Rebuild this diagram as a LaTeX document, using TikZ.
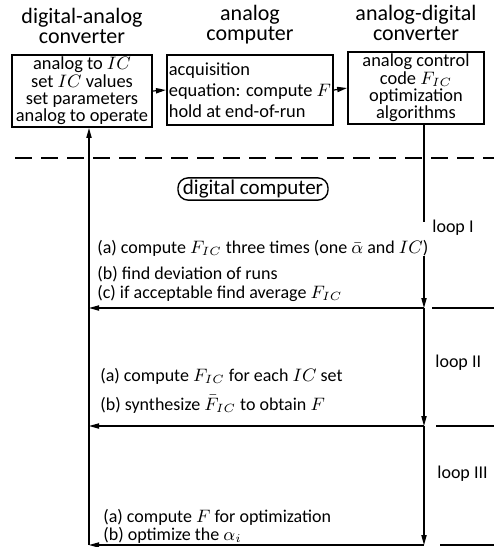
\documentclass[tikz,border=0pt]{standalone}
\usepackage{fontspec}
\setmainfont{Carlito}
\usetikzlibrary{arrows.meta,positioning}

\begin{document}
\begin{tikzpicture}[x=0.5pt, y=-0.5pt, >={Triangle[length=5pt,width=2.6pt]}, node distance=5pt,
    unit/.style={draw, line width=0.9pt, minimum width=70pt, minimum height=36pt, inner sep=1pt, font=\fontsize{9.2}{8.7}\selectfont},
    title/.style={align=center, inner sep=0pt, font=\fontsize{11}{10}\selectfont},
    stepline/.style={anchor=base west, inner sep=0pt, font=\fontsize{9}{10}\selectfont},
    looplabel/.style={anchor=base west, inner sep=0pt, font=\fontsize{9}{10}\selectfont},
    flow/.style={line width=0.6pt}]
    \useasboundingbox (0,0) rectangle (494,547);
    \node[unit, align=center] (dac) at (82,91) {analog to $IC$\\set $IC$ values\\set parameters\\analog to operate};
    \node[unit, align=left, minimum width=77pt, minimum height=35pt, font=\fontsize{9.2}{10.5}\selectfont] (ac) at (250,90) {acquisition\\equation: compute $F$\\hold at end-of-run};
    \node[unit, align=center, minimum width=68pt, minimum height=35.5pt] (adc) at (416,88) {analog control\\code $F_{IC}$\\optimization\\algorithms};
    \node[title, above=of dac] (dactitle) {digital-analog\\converter};
    \node[title, above=of ac] (actitle) {analog\\computer};
    \node[title, above=of adc] (adctitle) {analog-digital\\converter};
    \draw[flow, ->] (dac.east) -- (ac.west);
    \draw[flow, ->] (ac.east) -- (adc.west);
    \coordinate (dashl) at (15,158);
    \coordinate (dashr) at (494,158);
    \draw[line width=0.7pt, dash pattern=on 8.5pt off 4.5pt] (dashl) -- (dashr);
    \node[draw, line width=0.7pt, rounded corners=5pt, minimum width=75pt, minimum height=10pt, inner sep=1pt, font=\fontsize{10.5}{11}\selectfont] (dc) at (253,189) {digital computer};
    \coordinate (gap1) at (424,222);
    \coordinate (gap2) at (424,256);
    \coordinate (tap1) at (424,308);
    \coordinate (tap2) at (424,426);
    \coordinate (tap3) at (424,545);
    \coordinate (ret1) at (89,308);
    \coordinate (ret2) at (89,426);
    \coordinate (ret3) at (89,545);
    \coordinate (edge1) at (494,308);
    \coordinate (edge2) at (494,426);
    \coordinate (edge3) at (494,545);
    \draw[flow] (adc.south -| tap1) -- (gap1);
    \draw[flow, ->] (gap2) -- (tap1);
    \draw[flow, ->] (tap1) -- (tap2);
    \draw[flow, ->] (tap2) -- (tap3);
    \draw[flow, ->] (tap1) -- (ret1);
    \draw[flow, ->] (tap2) -- (ret2);
    \draw[flow, ->] (tap3) -- (ret3);
    \draw[flow, ->] (ret3) -- (dac.south -| ret3);
    \draw[flow] ([xshift=4pt]tap1) -- (edge1);
    \draw[flow] ([xshift=6pt]tap2) -- (edge2);
    \draw[flow] ([xshift=8pt]tap3) -- (edge3);
    \node[looplabel] (loopi) at (432,232) {loop $\mathrm{I}$};
    \node[looplabel] (loopii) at (435,367) {loop $\mathrm{II}$};
    \node[looplabel] (loopiii) at (437,478) {loop $\mathrm{III}$};
    \node[stepline] (ia) at (97,253) {(a) compute $F_{IC}$ three times (one $\bar{\alpha}$ and $IC$)};
    \node[stepline] (ib) at (97,279) {(b) find deviation of runs};
    \node[stepline] (ic) at (97,298) {(c) if acceptable find average $F_{IC}$};
    \node[stepline] (iia) at (100,381) {(a) compute $F_{IC}$ for each $IC$ set};
    \node[stepline] (iib) at (100,410) {(b) synthesize $\bar{F}_{IC}$ to obtain $F$};
    \node[stepline] (iiia) at (103,522) {(a) compute $F$ for optimization};
    \node[stepline] (iiib) at (103,540) {(b) optimize the $\alpha_i$};
  \end{tikzpicture}
\end{document}
